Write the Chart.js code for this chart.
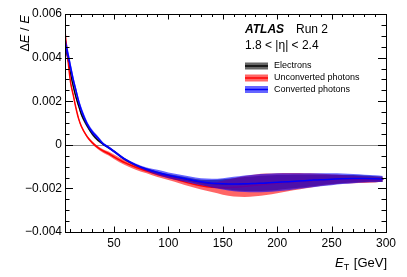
<!DOCTYPE html>
<html>
<head>
<meta charset="utf-8">
<script src="https://cdn.jsdelivr.net/npm/chart.js@4/dist/chart.umd.min.js"></script>
<style>
html,body{margin:0;padding:0;background:#fff;}
#c{display:block;}
</style>
</head>
<body>
<canvas id="c" width="407" height="277"></canvas>
<script>
// ---- data ----
const energy = [5,7.5,10,12.5,15,17.5,20,25,30,35,40,45,50,60,70,80,90,100,110,120,130,140,150,160,170,180,190,200,210,220,230,240,250,260,270,280,290,297];

const electrons = [0.0046,0.0040,0.0033,0.0027,0.0022,0.0018,0.0014,0.0009,0.0005,0.00022,0.00003,-0.00013,-0.0003,-0.00067,-0.00094,-0.00114,-0.00129,-0.00142,-0.00152,-0.00162,-0.00172,-0.00178,-0.0018,-0.00181,-0.0018,-0.00178,-0.00176,-0.00173,-0.0017,-0.00167,-0.00164,-0.00161,-0.00159,-0.00157,-0.00156,-0.00156,-0.00157,-0.00158];
const electronsErr = [0.0002,0.00017,0.00015,0.00013,0.00012,0.00011,0.0001,0.00008,0.00007,0.00006,0.00005,0.00005,0.00005,0.00005,0.00005,0.00006,0.00007,0.00008,0.00009,0.0001,0.00012,0.00016,0.00022,0.00028,0.00032,0.00034,0.00035,0.00034,0.00032,0.0003,0.00027,0.00024,0.00021,0.00019,0.00017,0.00015,0.00013,0.00012];

const unconverted = [0.0052,0.0040,0.0029,0.0023,0.0017,0.0012,0.00085,0.0004,0.0001,-0.00012,-0.00028,-0.0004,-0.00055,-0.00082,-0.00103,-0.0012,-0.00136,-0.00149,-0.00163,-0.00177,-0.00188,-0.00195,-0.00197,-0.00195,-0.00191,-0.00186,-0.00181,-0.00176,-0.00171,-0.00167,-0.00164,-0.00161,-0.00159,-0.00158,-0.00159,-0.0016,-0.0016,-0.00158];
const unconvertedErr = [0.0001,0.00008,0.00007,0.00006,0.00006,0.00006,0.00006,0.00006,0.00006,0.00007,0.00008,0.00009,0.0001,0.00011,0.00011,0.00011,0.00012,0.00012,0.00013,0.00014,0.00017,0.00022,0.00032,0.00042,0.00048,0.0005,0.00049,0.00046,0.00042,0.00038,0.00033,0.00028,0.00024,0.0002,0.00017,0.00015,0.00013,0.00012];

const converted = [0.0047,0.0042,0.0036,0.0030,0.0025,0.0020,0.0016,0.0010,0.0006,0.00033,0.00005,-0.00012,-0.0003,-0.00066,-0.00092,-0.00112,-0.00127,-0.0014,-0.0015,-0.0016,-0.0017,-0.00176,-0.00179,-0.0018,-0.00179,-0.00177,-0.00175,-0.00172,-0.00169,-0.00166,-0.00163,-0.0016,-0.00158,-0.00156,-0.00155,-0.00155,-0.00156,-0.00157];
const convertedErr = [0.0003,0.00025,0.0002,0.00018,0.00016,0.00015,0.00014,0.00012,0.0001,0.00008,0.00007,0.00006,0.00006,0.00006,0.00006,0.00008,0.00012,0.00013,0.00014,0.00015,0.00016,0.0002,0.00026,0.00033,0.00038,0.00041,0.00042,0.00041,0.00039,0.00036,0.00033,0.0003,0.00027,0.00024,0.00021,0.00018,0.00016,0.00014];

const seriesNames = ["Electrons", "Unconverted photons", "Converted photons"];
const xTickValues = [50,100,150,200,250,300];
const yTickValues = [-0.004,-0.002,0,0.002,0.004,0.006];
const xRange = [5, 300];
const yRange = [-0.004, 0.006];

// ---- styling ----
const FONT = "'Liberation Sans', Arial, Helvetica, sans-serif";
const styles = [
  {line:'#000000', band:'rgba(0,0,0,0.6)', w:1.2},
  {line:'#ff0000', band:'rgba(255,0,0,0.6)', w:1.5},
  {line:'#0000ff', band:'rgba(0,0,255,0.6)', w:1.5}
];

function pts(vals, err, sign){
  return energy.map((e,i)=>({x:e, y: vals[i] + sign*(err ? err[i] : 0)}));
}

const groups = [[electrons, electronsErr],[unconverted, unconvertedErr],[converted, convertedErr]];
const datasets = [];
groups.forEach((g, k) => {
  const base = (3 - k) * 2; // later groups on top
  datasets.push({label: seriesNames[k]+' low', data: pts(g[0], g[1], -1), borderWidth:0, pointRadius:0, fill:false, order: base, cubicInterpolationMode:'monotone'});
  datasets.push({label: seriesNames[k]+' high', data: pts(g[0], g[1], 1), borderWidth:0, pointRadius:0, fill:'-1', backgroundColor: styles[k].band, order: base, cubicInterpolationMode:'monotone'});
  datasets.push({label: seriesNames[k], data: pts(g[0], null, 0), borderColor: styles[k].line, borderWidth: styles[k].w, pointRadius:0, fill:false, order: base - 1, cubicInterpolationMode:'monotone'});
});

function fmtY(v){
  if (Math.abs(v) < 1e-12) return '0';
  const s = Math.abs(v).toFixed(3);
  return (v < 0 ? '\u2212' : '') + s;
}

const decor = {
  id: 'decor',
  beforeDatasetsDraw(chart){
    const ctx = chart.ctx, a = chart.chartArea, ys = chart.scales.y;
    const y0 = Math.round(ys.getPixelForValue(0)) + 0.5;
    ctx.save();
    ctx.strokeStyle = '#8c8c8c';
    ctx.lineWidth = 1;
    ctx.beginPath(); ctx.moveTo(a.left, y0); ctx.lineTo(a.right, y0); ctx.stroke();
    ctx.restore();
  },
  afterDraw(chart){
    const ctx = chart.ctx, a = chart.chartArea, xs = chart.scales.x, ys = chart.scales.y;
    ctx.save();
    // frame
    ctx.strokeStyle = '#000'; ctx.lineWidth = 1;
    ctx.strokeRect(Math.round(a.left)+0.5, Math.round(a.top)+0.5, Math.round(a.right-a.left), Math.round(a.bottom-a.top));
    // x ticks (inside, top and bottom)
    ctx.beginPath();
    for (let v = 10; v <= 300; v += 10) {
      const px = Math.round(xs.getPixelForValue(v)) + 0.5;
      const len = (v % 50 === 0) ? 5.5 : 3;
      ctx.moveTo(px, a.bottom); ctx.lineTo(px, a.bottom - len);
      ctx.moveTo(px, a.top); ctx.lineTo(px, a.top + len);
    }
    // y ticks (inside, left and right)
    for (let i = -8; i <= 12; i++) {
      const v = i * 0.0005;
      const py = Math.round(ys.getPixelForValue(v)) + 0.5;
      const len = (i % 4 === 0) ? 8 : 4.5;
      ctx.moveTo(a.left, py); ctx.lineTo(a.left + len, py);
      ctx.moveTo(a.right, py); ctx.lineTo(a.right - len, py);
    }
    ctx.stroke();

    ctx.fillStyle = '#000';
    ctx.textBaseline = 'alphabetic';
    // y title: ΔE / E, rotated, aligned to top
    const yParts = [['\u0394', 'normal'], ['E', 'italic'], [' / ', 'normal'], ['E', 'italic']];
    ctx.save();
    ctx.translate(29, a.top + 1);
    ctx.rotate(-Math.PI/2);
    let tw = 0;
    yParts.forEach(p => { ctx.font = p[1] + ' 13px ' + FONT; tw += ctx.measureText(p[0]).width; });
    let cx = -tw;
    yParts.forEach(p => { ctx.font = p[1] + ' 13px ' + FONT; ctx.textAlign='left'; ctx.fillText(p[0], cx, 0); cx += ctx.measureText(p[0]).width; });
    ctx.restore();

    // x title: E_T [GeV], right aligned
    ctx.textAlign = 'left';
    ctx.font = 'italic 13px ' + FONT; const wE = ctx.measureText('E').width;
    ctx.font = 'normal 9px ' + FONT; const wT = ctx.measureText('T').width;
    ctx.font = 'normal 13px ' + FONT; const wG = ctx.measureText(' [GeV]').width;
    let xs0 = a.right + 1 - (wE + wT + 1 + wG);
    const by = 267;
    ctx.font = 'italic 13px ' + FONT; ctx.fillText('E', xs0, by); xs0 += wE;
    ctx.font = 'normal 9px ' + FONT; ctx.fillText('T', xs0, by + 3); xs0 += wT + 1;
    ctx.font = 'normal 13px ' + FONT; ctx.fillText(' [GeV]', xs0, by);

    // ATLAS label
    ctx.font = 'italic bold 12px ' + FONT;
    ctx.fillText('ATLAS', 245, 33);
    ctx.font = 'normal 12px ' + FONT;
    ctx.fillText('Run 2', 296, 33);
    ctx.fillText('1.8 < |\u03b7| < 2.4', 245, 49);

    // legend
    const rows = [66, 78, 89.5];
    ctx.font = 'normal 9px ' + FONT;
    rows.forEach((ry, k) => {
      ctx.fillStyle = styles[k].band;
      ctx.fillRect(245, ry - 3.5, 23, 7);
      ctx.strokeStyle = styles[k].line;
      ctx.lineWidth = 1.5;
      ctx.beginPath(); ctx.moveTo(245, ry); ctx.lineTo(268, ry); ctx.stroke();
      ctx.fillStyle = '#000';
      ctx.textBaseline = 'middle';
      ctx.fillText(seriesNames[k], 274, ry);
    });
    ctx.restore();
  }
};

new Chart(document.getElementById('c'), {
  type: 'line',
  data: { datasets },
  options: {
    responsive: false,
    devicePixelRatio: 1,
    animation: false,
    events: [],
    layout: { padding: { top: 14, right: 21, left: 0, bottom: 0 } },
    plugins: { legend: { display: false }, tooltip: { enabled: false } },
    elements: { line: { borderCapStyle: 'round' } },
    scales: {
      x: {
        type: 'linear', min: xRange[0], max: xRange[1],
        grid: { display: false, drawTicks: false }, border: { display: false },
        afterBuildTicks: s => { s.ticks = xTickValues.map(v => ({value: v})); },
        afterFit: s => { s.height = 45; },
        ticks: { padding: 4, maxRotation: 0, autoSkip: false, color: '#000', font: { family: FONT, size: 12 }, callback: v => String(v) }
      },
      y: {
        type: 'linear', min: yRange[0], max: yRange[1],
        grid: { display: false, drawTicks: false }, border: { display: false },
        afterBuildTicks: s => { s.ticks = yTickValues.map(v => ({value: v})); },
        afterFit: s => { s.width = 65; },
        ticks: { padding: 3, autoSkip: false, color: '#000', font: { family: FONT, size: 12 }, callback: v => fmtY(v) }
      }
    }
  },
  plugins: [decor]
});
</script>
</body>
</html>
